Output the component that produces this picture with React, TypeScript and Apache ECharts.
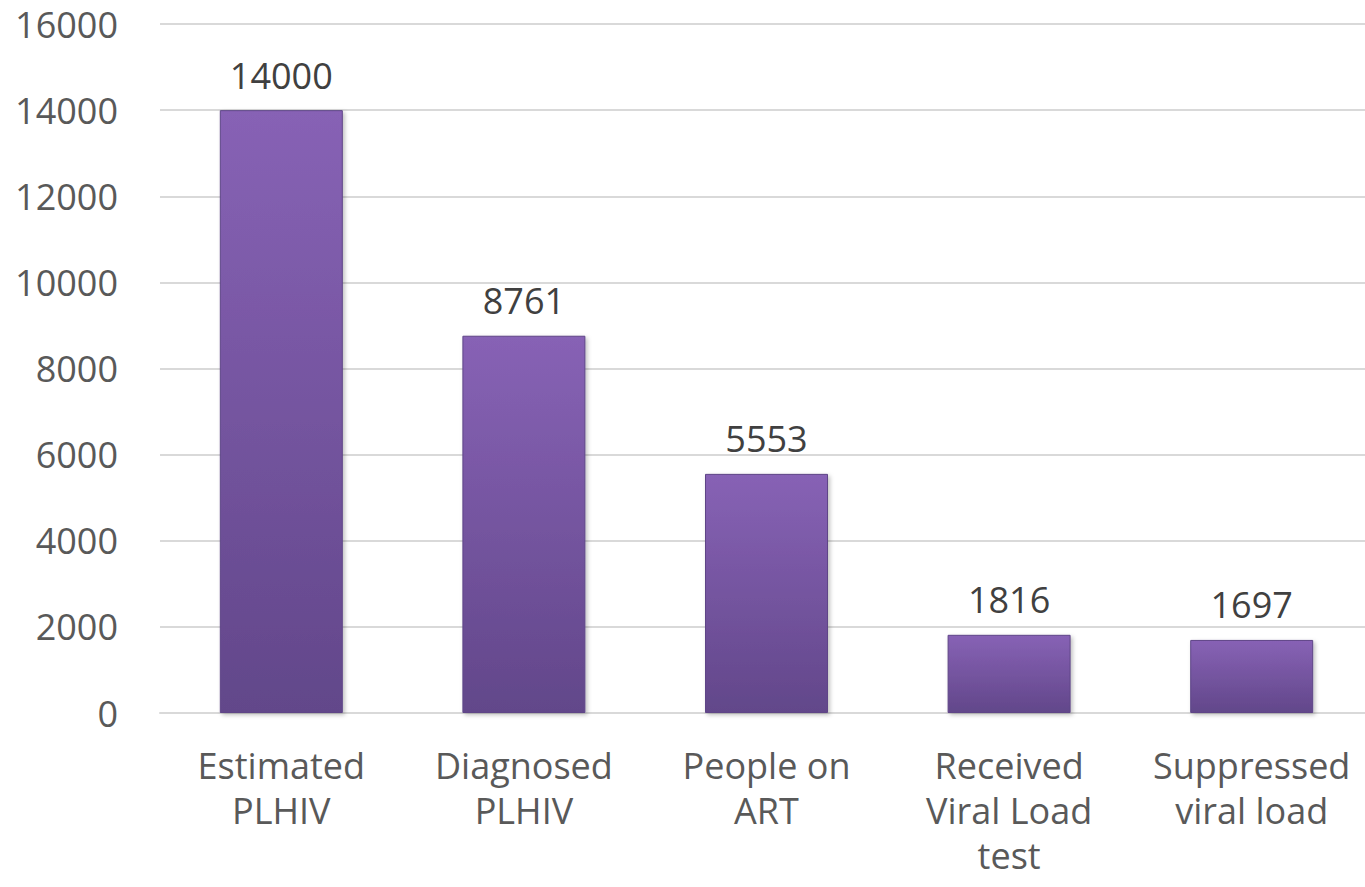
import React, { useEffect, useRef } from "react";
import * as echarts from "echarts";

const categories = [
  "Estimated\nPLHIV",
  "Diagnosed\nPLHIV",
  "People on\nART",
  "Received\nViral Load\ntest",
  "Suppressed\nviral load",
];
const values = [14000, 8761, 5553, 1816, 1697];
const yMin = 0;
const yMax = 16000;
const yInterval = 2000;

const FONT = "'Open Sans', 'Noto Sans', sans-serif";

export default function App() {
  const ref = useRef<HTMLDivElement>(null);
  useEffect(() => {
    if (!ref.current) return;
    const chart = echarts.init(ref.current, null, { renderer: "svg" });
    chart.setOption({
      animation: false,
      backgroundColor: "#ffffff",
      grid: { left: 160, right: 0, top: 24, bottom: 174, containLabel: false },
      xAxis: {
        type: "category",
        data: categories,
        axisLine: { show: true, lineStyle: { color: "#d9d9d9", width: 2 } },
        axisTick: { show: false },
        axisLabel: {
          color: "#595959",
          fontSize: 36,
          fontFamily: FONT,
          lineHeight: 45,
          margin: 30,
          interval: 0,
        },
      },
      yAxis: {
        type: "value",
        min: yMin,
        max: yMax,
        interval: yInterval,
        axisLine: { show: false },
        axisTick: { show: false },
        splitLine: { lineStyle: { color: "#d9d9d9", width: 2 } },
        axisLabel: {
          color: "#595959",
          fontSize: 36,
          fontFamily: FONT,
          margin: 42,
          formatter: (v: number) => String(v),
        },
      },
      series: [
        {
          type: "bar",
          data: values,
          barWidth: 123,
          itemStyle: {
            color: new echarts.graphic.LinearGradient(0, 0, 0, 1, [
              { offset: 0, color: "#8762b5" },
              { offset: 1, color: "#62478a" },
            ]),
            borderColor: "#5e4587",
            borderWidth: 1,
            shadowColor: "rgba(0,0,0,0.25)",
            shadowBlur: 4,
            shadowOffsetX: 2,
            shadowOffsetY: 2,
          },
          label: {
            show: true,
            position: "top",
            distance: 17,
            color: "#404040",
            fontSize: 36,
            fontFamily: FONT,
          },
        },
      ],
    });
    return () => chart.dispose();
  }, []);
  return (
    <div
      style={{
        position: "fixed",
        left: 0,
        top: 0,
        width: 1365,
        height: 887,
        overflow: "hidden",
        background: "#ffffff",
      }}
    >
      <div ref={ref} style={{ width: 1373, height: 887 }} />
    </div>
  );
}
